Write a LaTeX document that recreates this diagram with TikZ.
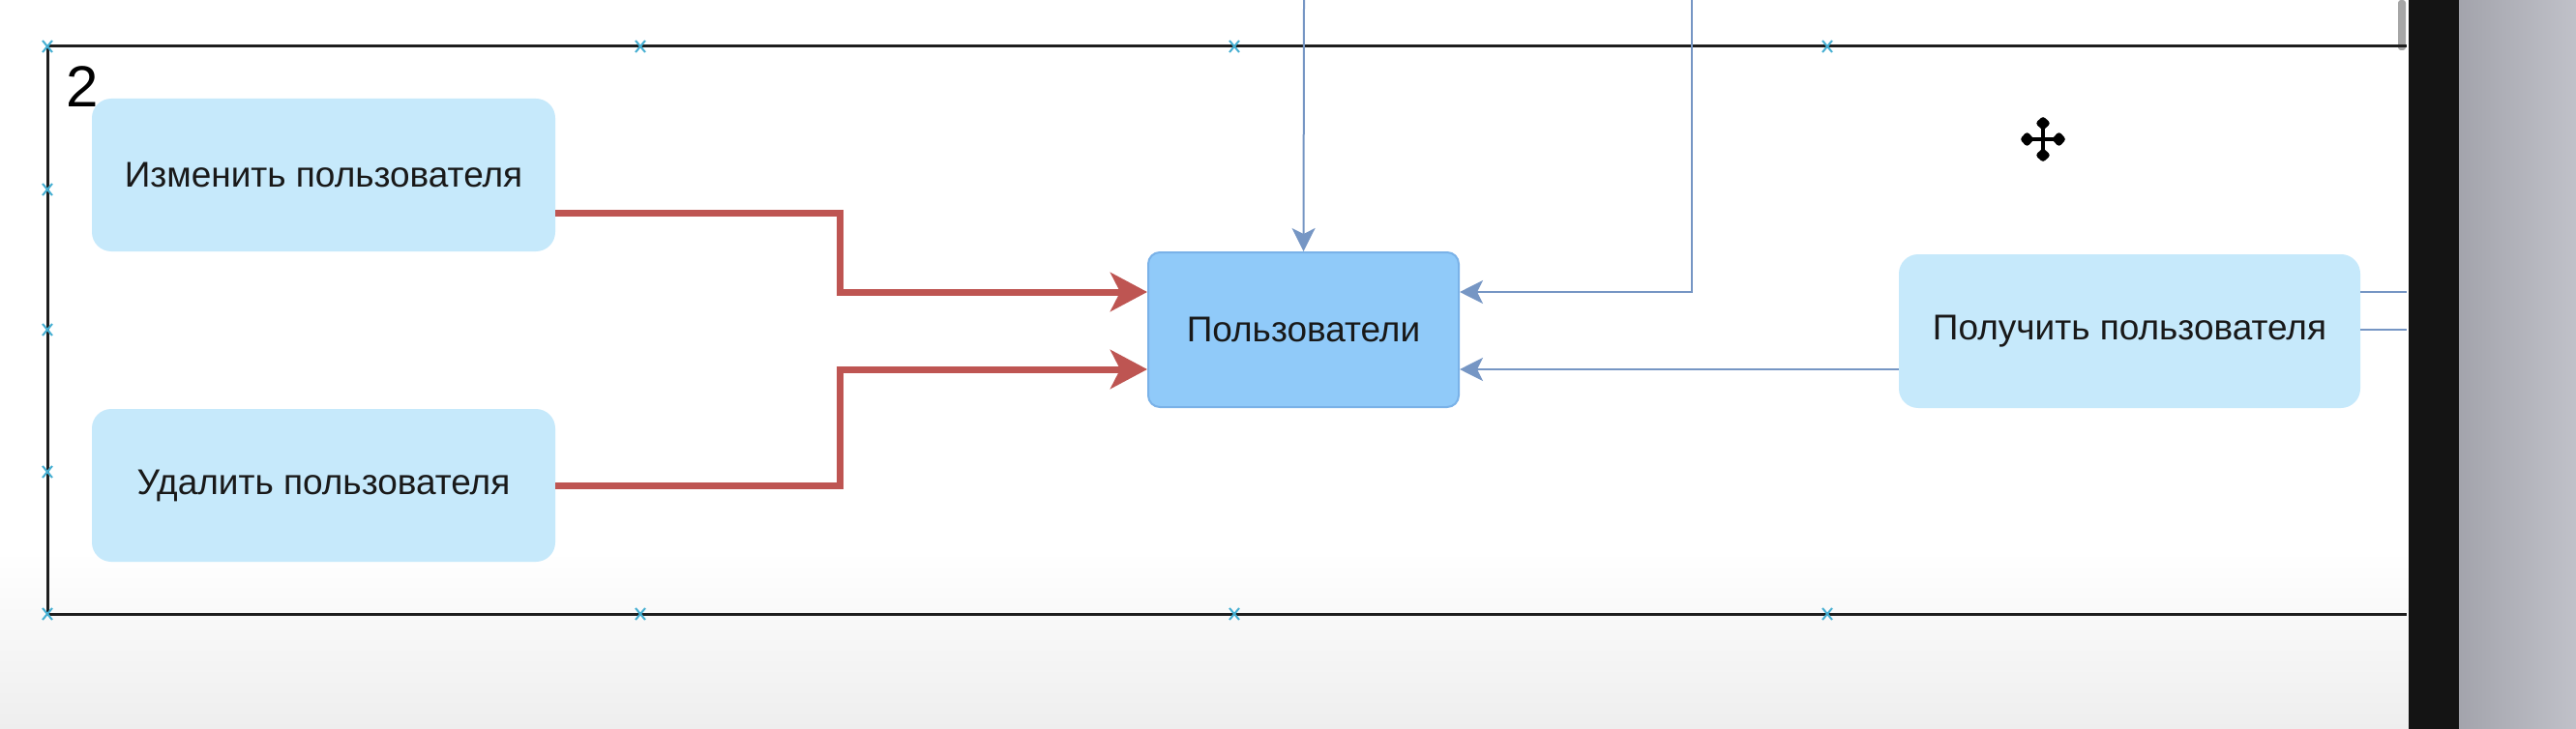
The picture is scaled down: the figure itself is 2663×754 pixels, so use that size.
\documentclass[tikz,border=0pt]{standalone}
\usepackage{fontspec}
\setmainfont{Liberation Sans}
\usetikzlibrary{arrows.meta,calc}
\definecolor{lightnode}{RGB}{198,233,251}
\definecolor{usersfill}{RGB}{144,202,249}
\definecolor{usersdraw}{RGB}{122,178,232}
\definecolor{redline}{RGB}{190,85,82}
\definecolor{blueline}{RGB}{118,150,196}
\definecolor{framecol}{RGB}{30,30,30}
\definecolor{markcol}{RGB}{70,175,210}
\definecolor{panelgray}{RGB}{181,182,191}
\definecolor{darkbar}{RGB}{20,20,20}
\definecolor{bottomgray}{RGB}{238,238,238}
\tikzset{
  lightbox/.style={fill=lightnode, rounded corners=20pt, minimum width=479pt, minimum height=158pt, inner sep=0pt, font=\fontsize{37}{44}\selectfont, text=black!90},
  usersbox/.style={fill=usersfill, draw=usersdraw, line width=2pt, rounded corners=12pt, minimum width=321pt, minimum height=160pt, inner sep=0pt, font=\fontsize{37}{44}\selectfont, text=black!90},
  redarrow/.style={draw=redline, line width=7pt, -{Stealth[length=38pt,width=40pt,inset=10pt]}},
  bluearrow/.style={draw=blueline, line width=2pt, -{Stealth[length=24pt,width=24pt,inset=6pt]}},
  blueplain/.style={draw=blueline, line width=2pt},
  framestroke/.style={draw=framecol, line width=3pt},
  markstroke/.style={draw=markcol, line width=2pt},
}
\newcommand{\crossmark}[2]{\draw[markstroke] ($(#1,#2)+(-5,-6)$) -- ($(#1,#2)+(5,6)$); \draw[markstroke] ($(#1,#2)+(-5,6)$) -- ($(#1,#2)+(5,-6)$);}
\begin{document}
\begin{tikzpicture}[x=1pt,y=-1pt]
\useasboundingbox (0,0) rectangle (2663,754);
% background
\fill[white] (0,0) rectangle (2490,754);
\shade[top color=white, bottom color=bottomgray] (0,570) rectangle (2490,754);
\fill[darkbar] (2490,0) rectangle (2542,754);
\shade[left color=panelgray!90!black, right color=panelgray!85!white] (2542,0) rectangle (2663,754);
% scroll thumb
\fill[gray!70, rounded corners=3pt] (2479,0) rectangle (2487,52);
% frame
\draw[framestroke] (2488,48) -- (49,48) -- (49,635) -- (2488,635);
\crossmark{49}{48}\crossmark{662}{48}\crossmark{1276}{48}\crossmark{1889}{48}
\crossmark{49}{196}\crossmark{49}{341}\crossmark{49}{488}\crossmark{49}{635}
\crossmark{662}{635}\crossmark{1276}{635}\crossmark{1889}{635}
\node[anchor=north west, inner sep=0pt, font=\fontsize{60}{60}\selectfont] (lbl) at (68,68) {2};
% nodes
\node[lightbox] (n1) at (334.5,181) {Изменить пользователя};
\node[lightbox] (n2) at (334.5,502) {Удалить пользователя};
\node[usersbox] (u) at (1347.5,341) {Пользователи};
\node[lightbox, minimum width=477pt, minimum height=159pt] (g) at (2201.5,342.5) {Получить пользователя};
% red connectors
\draw[redarrow] ([yshift=-40pt]n1.east) -- ++(294,0) |- ([yshift=39pt]u.west);
\draw[redarrow] (n2.east) -- ++(294,0) |- ([yshift=-41pt]u.west);
% blue connectors
\coordinate (t1) at (1348,0);
\coordinate (t2) at (1749,0);
\draw[bluearrow] (t1) -- (u.north);
\draw[bluearrow] (t2) |- ([yshift=39pt]u.east);
\draw[bluearrow] ([yshift=-41pt]u.east -| g.west) -- ([yshift=-41pt]u.east);
\coordinate (s1) at (2488,302);
\coordinate (s2) at (2488,341);
\draw[blueplain] (g.east |- s1) -- (s1);
\draw[blueplain] (g.east |- s2) -- (s2);
% move cursor
\begin{scope}[shift={(2112,144)}]
  \draw[black, line width=4pt] (-17,0) -- (17,0) (0,-17) -- (0,17);
  \foreach \a in {0,90,180,270}{
    \fill[black, rounded corners=3pt, rotate=\a] (9,0) -- (16.5,-8) -- (24,0) -- (16.5,8) -- cycle;
  }
\end{scope}
\end{tikzpicture}
\end{document}
